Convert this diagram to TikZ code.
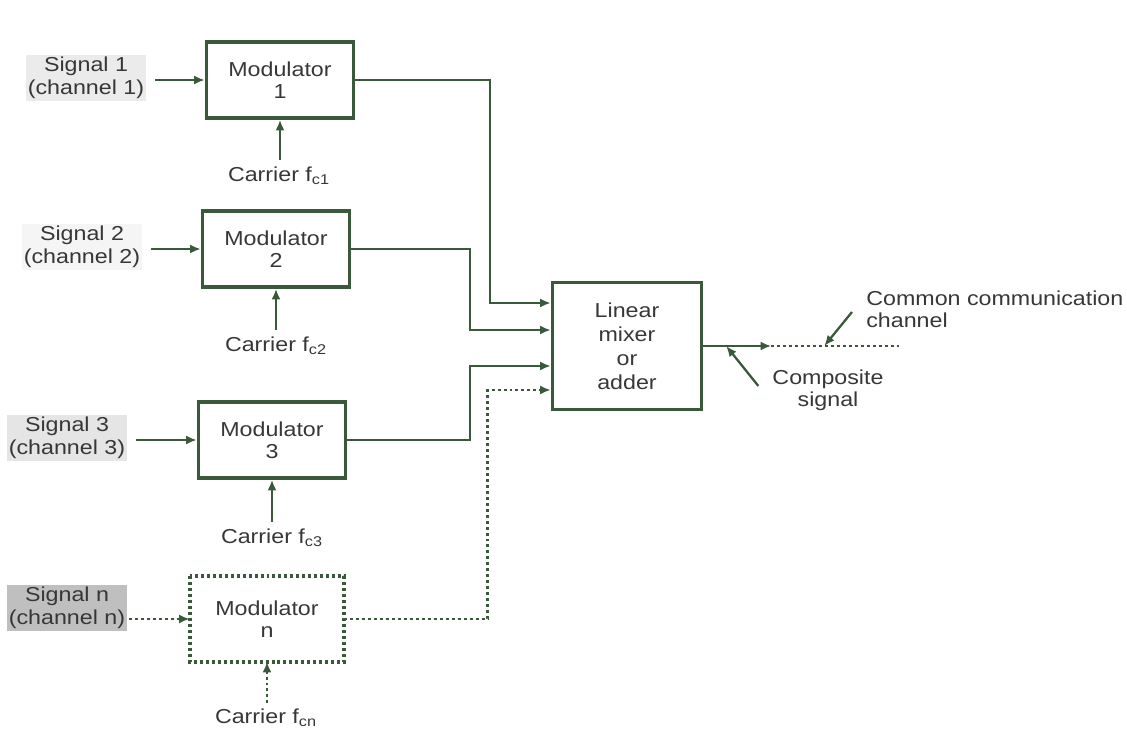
\documentclass[tikz,border=0pt]{standalone}
\usepackage{fontspec}
\setmainfont[FakeStretch=1.15]{Liberation Sans}
\usetikzlibrary{
  arrows.meta,
  calc,
  positioning
}
\tikzset{>={Latex[length=6pt,width=5pt]}}
\definecolor{wiregreen}{RGB}{58,88,58}
\definecolor{inkgray}{RGB}{55,55,55}
\tikzset{font=\fontsize{11.5}{12.5}\selectfont}

\begin{document}
\begin{tikzpicture}[x=0.02cm, y=-0.02cm,
    modbox/.style={draw=wiregreen, line width=2pt, minimum width=2.94cm,
      minimum height=1.52cm, align=center, text=inkgray},
    sumbox/.style={modbox, minimum width=2.98cm, minimum height=2.54cm,
      font=\fontsize{11.5}{13.6}\selectfont},
    siglabel/.style={align=center, text=inkgray, fill=black!8, inner sep=1pt,
      font=\fontsize{11.5}{13}\selectfont},
    carlabel/.style={text=inkgray, inner sep=1pt},
    wire/.style={draw=wiregreen, line width=1.3pt},
    dotwire/.style={wire, line width=1.5pt, dash pattern=on 1.7pt off 1.7pt}]
  \useasboundingbox (0,0) rectangle (1127,737);

  % modulators and adder
  \node[modbox] (mod1) at (280,80) {Modulator\\1};
  \node[modbox] (mod2) at (276,249) {Modulator\\2};
  \node[modbox] (mod3) at (272,440) {Modulator\\3};
  \node[modbox, draw=none, minimum width=3.02cm, minimum height=1.64cm] (modn) at (267,619) {Modulator\\n};
  \draw[dotwire, line width=2pt] (modn.north west) rectangle (modn.south east);
  \node[sumbox] (adder) at (627,346) {Linear\\mixer\\or\\adder};

  % inputs
  \node[siglabel] (sig1) at (86,78) {Signal 1\\(channel 1)};
  \node[siglabel, fill=black!4] (sig2) at (82,247) {Signal 2\\(channel 2)};
  \node[siglabel, fill=black!10] (sig3) at (67,438) {Signal 3\\(channel 3)};
  \node[siglabel, fill=black!25] (sign) at (67,608) {Signal n\\(channel n)};
  \draw[wire, ->] ([xshift=5pt]sig1.east |- mod1.west) -- (mod1.west);
  \draw[wire, ->] ([xshift=5pt]sig2.east |- mod2.west) -- (mod2.west);
  \draw[wire, ->] ([xshift=5pt]sig3.east |- mod3.west) -- (mod3.west);
  \draw[dotwire, ->] ([xshift=1pt]sign.east |- modn.west) -- (modn.west);

  % carriers
  \node[carlabel] (car1) at (279,176) {Carrier f\textsubscript{c1}};
  \node[carlabel] (car2) at (276,346) {Carrier f\textsubscript{c2}};
  \node[carlabel] (car3) at (272,538) {Carrier f\textsubscript{c3}};
  \node[carlabel] (carn) at (266,718) {Carrier f\textsubscript{cn}};
  \draw[wire, ->] ([yshift=3pt]car1.north -| mod1.south) -- (mod1.south);
  \draw[wire, ->] ([yshift=3pt]car2.north -| mod2.south) -- (mod2.south);
  \draw[wire, ->] ([yshift=3pt]car3.north -| mod3.south) -- (mod3.south);
  \draw[dotwire, ->] ([yshift=2pt]carn.north -| modn.south) -- (modn.south);

  % into the adder
  \draw[wire, ->] (mod1.east) -| ($(adder.west)+(-61,-43)$) -- ($(adder.west)+(0,-43)$);
  \draw[wire, ->] (mod2.east) -| ($(adder.west)+(-81,-16)$) -- ($(adder.west)+(0,-16)$);
  \draw[wire, ->] (mod3.east) -| ($(adder.west)+(-81,20)$) -- ($(adder.west)+(0,20)$);
  \draw[dotwire, ->] (modn.east) -| ($(adder.west)+(-63,44)$) -- ($(adder.west)+(0,44)$);

  % output
  \draw[wire, ->] (adder.east) -- ++(68,0) coordinate (outend);
  \draw[dotwire] (outend) -- ++(128,0) coordinate (chanend);
  \node[carlabel, align=left, anchor=west, inner sep=0pt] (chanlbl) at (866,309) {Common communication\\channel};
  \node[carlabel, align=center] (complbl) at (828,390) {Composite\\signal};
  \draw[wire, ->] ($(chanlbl.west)+(-14,3)$) -- ($(outend)+(53,0)$);
  \draw[wire, ->] ($(complbl.west)+(-12,-4)$) -- ($(adder.east)+(23,0)$);
\end{tikzpicture}
\end{document}
